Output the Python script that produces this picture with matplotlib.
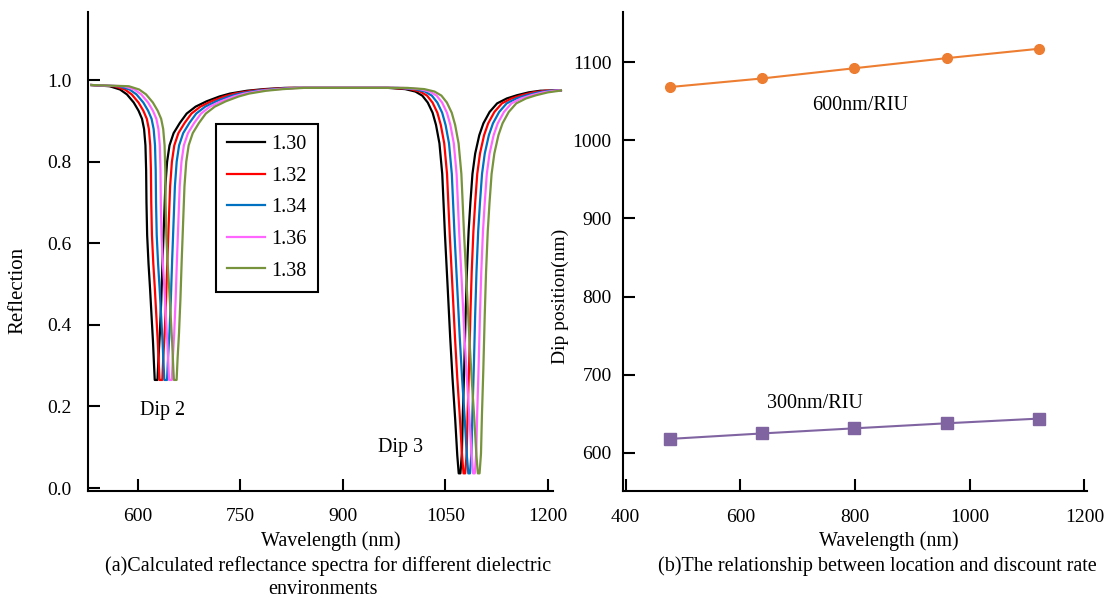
import matplotlib.pyplot as plt
from matplotlib.ticker import FormatStrFormatter

plt.rcParams['font.family'] = ['Liberation Serif', 'DejaVu Serif']

# refractive index of the surrounding medium
ri_labels = ['1.30', '1.32', '1.34', '1.36', '1.38']
ri_colors = ['#000000', '#ff0000', '#0070c0', '#ff66ff', '#77933c']

# dip centres (nm) for each index
dip2_pos = [627, 634, 641, 648, 655]
dip3_pos = [1071, 1078, 1085, 1092, 1099]

# spectrum for n = 1.30, split around the two dips
start_wl, start_r = 532, 0.988
end_wl, end_r = 1219, 0.975

dip2_wl = [558.9, 574.0, 584.1, 594.1, 601.1, 606.2, 609.2, 611.2, 612.2, 612.7,
           613.7, 615.7, 617.9, 620.2, 622.2, 623.8, 624.8, 628.8, 630.3, 632.3,
           634.3, 636.3, 638.3, 640.3, 642.9, 646.4, 652.4, 661.5, 671.5, 684.6,
           700.6, 719.7, 734.8, 759.9, 785.0, 815.2]
dip2_r = [0.985, 0.977, 0.965, 0.945, 0.925, 0.905, 0.88, 0.84, 0.78, 0.70,
          0.62, 0.55, 0.49, 0.42, 0.36, 0.30, 0.265, 0.265, 0.32, 0.38,
          0.46, 0.56, 0.65, 0.74, 0.80, 0.84, 0.87, 0.895, 0.918, 0.935,
          0.948, 0.96, 0.967, 0.974, 0.978, 0.981]

dip3_wl = [965.9, 991.1, 1006.1, 1016.2, 1024.2, 1031.3, 1036.3, 1041.3, 1045.4, 1049.4,
           1053.4, 1057.0, 1060.4, 1064.4, 1067.4, 1069.5, 1072.0, 1074.1, 1075.5, 1077.5,
           1079.5, 1081.5, 1084.0, 1086.6, 1089.6, 1093.6, 1099.6, 1105.6, 1114.7, 1125.7,
           1139.8, 1154.8, 1171.9, 1189.1]
dip3_r = [0.981, 0.978, 0.972, 0.962, 0.945, 0.92, 0.89, 0.845, 0.77, 0.62,
          0.49, 0.37, 0.27, 0.167, 0.08, 0.036, 0.036, 0.085, 0.18, 0.29,
          0.42, 0.53, 0.63, 0.70, 0.77, 0.82, 0.865, 0.894, 0.922, 0.943,
          0.955, 0.963, 0.97, 0.974]

# dip position vs wavelength
pos_wl = [477, 638, 798, 960, 1121]
dip_600 = [1068, 1079, 1092, 1105, 1117]
dip_300 = [618, 625, 631.5, 638, 644]

W, H = 1109, 598
fig = plt.figure(figsize=(W / 100, H / 100), dpi=100)

ax1 = fig.add_axes([88.3 / W, 1 - 491.3 / H, (552.7 - 88.3) / W, (491.3 - 12) / H])
ax2 = fig.add_axes([622.7 / W, 1 - 491.3 / H, (1087.3 - 622.7) / W, (491.3 - 12) / H])

# ---- (a) reflectance spectra
for i in range(len(ri_labels)):
    s2 = dip2_pos[i] - dip2_pos[0]
    s3 = dip3_pos[i] - dip3_pos[0]
    x = [start_wl] + [w + s2 for w in dip2_wl] + [w + s3 for w in dip3_wl] + [end_wl]
    y = [start_r] + dip2_r + dip3_r + [end_r]
    ax1.plot(x, y, color=ri_colors[i], lw=1.6, label=ri_labels[i], clip_on=False,
             solid_joinstyle='round')

ax1.set_xlim(527.6, 1207)
ax1.set_ylim(-0.008, 1.167)
ax1.set_xticks([600, 750, 900, 1050, 1200])
ax1.set_yticks([0.0, 0.2, 0.4, 0.6, 0.8, 1.0])
ax1.yaxis.set_major_formatter(FormatStrFormatter('%.1f'))
ax1.text(636.9, 0.191, 'Dip 2', ha='center', va='center', fontsize=14.5)
ax1.text(984.8, 0.099, 'Dip 3', ha='center', va='center', fontsize=14.5)

leg = ax1.legend(loc='upper left', bbox_to_anchor=(215.7 / W, 1 - 124 / H),
                 bbox_transform=fig.transFigure, borderaxespad=0, fontsize=14.5,
                 frameon=True, fancybox=False, framealpha=1, edgecolor='black',
                 handlelength=1.9, handletextpad=0.3, labelspacing=0.62,
                 borderpad=0.55)
leg.get_frame().set_linewidth(1.5)

# ---- (b) dip position
ax2.plot(pos_wl, dip_600, color='#ed7d31', lw=1.5, marker='o', ms=7)
ax2.plot(pos_wl, dip_300, color='#8064a2', lw=1.5, marker='s', ms=8)
ax2.set_xlim(395, 1205)
ax2.set_ylim(551, 1164)
ax2.set_xticks([400, 600, 800, 1000, 1200])
ax2.set_yticks([600, 700, 800, 900, 1000, 1100])
ax2.text(809.8, 1044.8, '600nm/RIU', ha='center', va='center', fontsize=14.5)
ax2.text(729.4, 663.9, '300nm/RIU', ha='center', va='center', fontsize=14.5)

for ax in (ax1, ax2):
    ax.spines['top'].set_visible(False)
    ax.spines['right'].set_visible(False)
    for s in ('left', 'bottom'):
        ax.spines[s].set_linewidth(1.5)
    ax.tick_params(direction='in', length=8.5, width=1.5, labelsize=14)
ax1.tick_params(axis='y', pad=12)
ax1.tick_params(axis='x', pad=12)
ax2.tick_params(axis='y', pad=8)
ax2.tick_params(axis='x', pad=13)

fig.text(18 / W, 1 - 290 / H, 'Reflection', rotation=90, ha='center', va='center', fontsize=15)
fig.text(560.7 / W, 1 - 296 / H, 'Dip position(nm)', rotation=90, ha='center', va='center', fontsize=14)

fig.text(331 / W, 1 - 541 / H, 'Wavelength (nm)', ha='center', va='center', fontsize=14.5)
fig.text(328 / W, 1 - 566 / H, '(a)Calculated reflectance spectra for different dielectric',
         ha='center', va='center', fontsize=14.5)
fig.text(323 / W, 1 - 590 / H, 'environments', ha='center', va='center', fontsize=14.5)

fig.text(889 / W, 1 - 541 / H, 'Wavelength (nm)', ha='center', va='center', fontsize=14.5)
fig.text(877 / W, 1 - 566 / H, '(b)The relationship between location and discount rate',
         ha='center', va='center', fontsize=14.5)

fig.savefig('out.png', dpi=100)
